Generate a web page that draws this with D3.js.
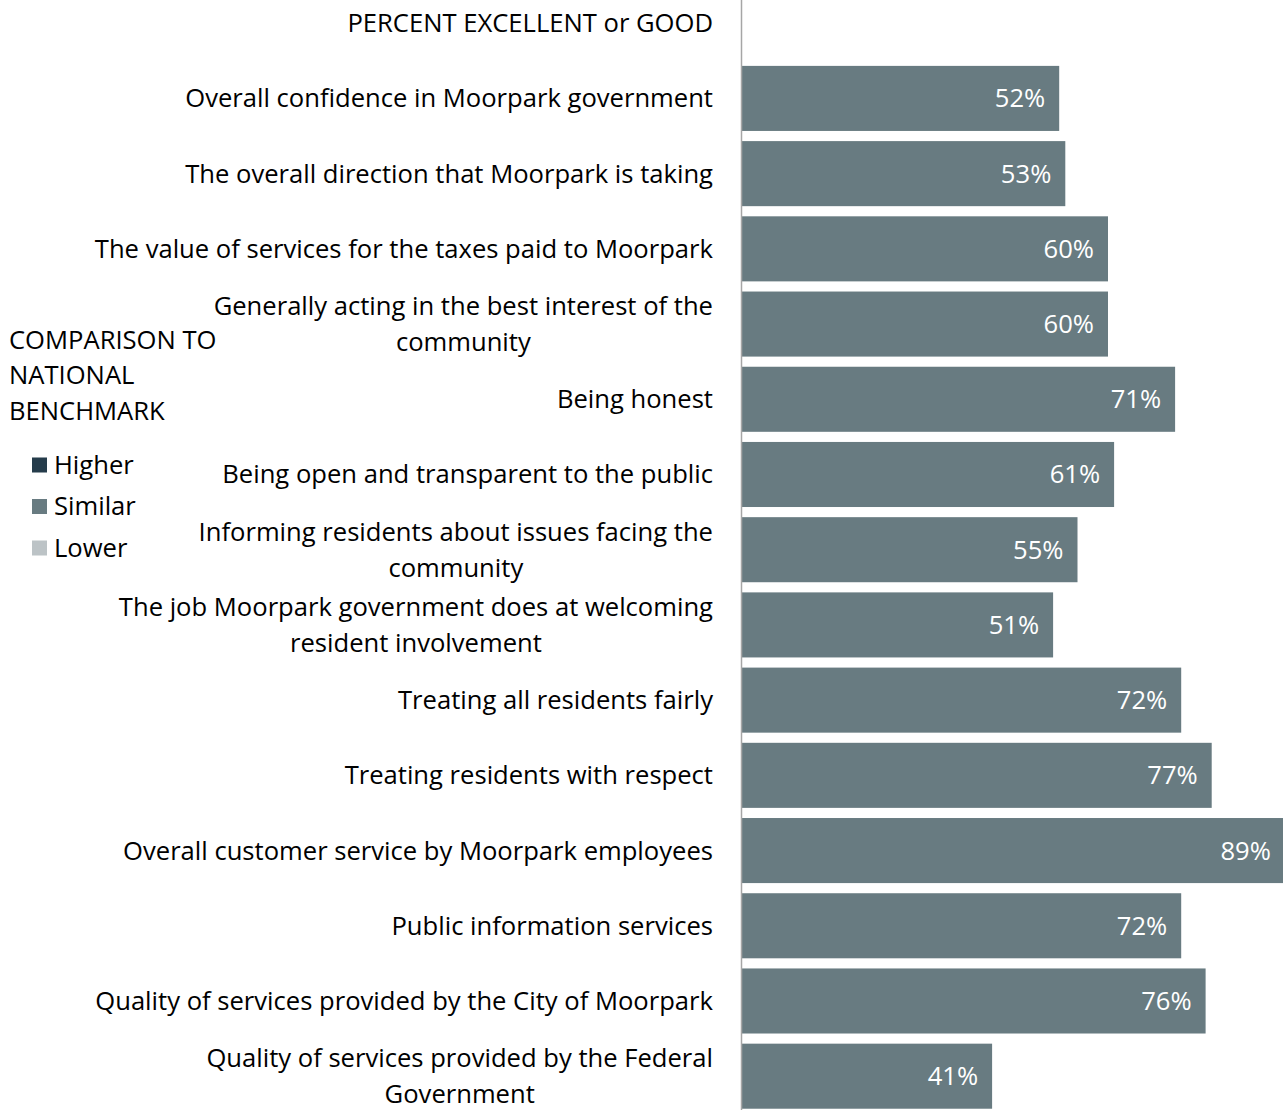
<!DOCTYPE html>
<html>
<head>
<meta charset="utf-8">
<script src="https://cdn.jsdelivr.net/npm/d3@7"></script>
<style>
  html, body { margin: 0; padding: 0; background: #fff; }
  svg text { font-family: "Open Sans", "Noto Sans", sans-serif; }
</style>
</head>
<body>
<svg id="chart" width="1283" height="1110"></svg>
<script>
const headerLabel = "PERCENT EXCELLENT or GOOD";
const categories = [
  ["Overall confidence in Moorpark government"],
  ["The overall direction that Moorpark is taking"],
  ["The value of services for the taxes paid to Moorpark"],
  ["Generally acting in the best interest of the", "community"],
  ["Being honest"],
  ["Being open and transparent to the public"],
  ["Informing residents about issues facing the", "community"],
  ["The job Moorpark government does at welcoming", "resident involvement"],
  ["Treating all residents fairly"],
  ["Treating residents with respect"],
  ["Overall customer service by Moorpark employees"],
  ["Public information services"],
  ["Quality of services provided by the City of Moorpark"],
  ["Quality of services provided by the Federal", "Government"]
];
const values = [52, 53, 60, 60, 71, 61, 55, 51, 72, 77, 89, 72, 76, 41];
const comparison = ["Similar","Similar","Similar","Similar","Similar","Similar","Similar",
                    "Similar","Similar","Similar","Similar","Similar","Similar","Similar"];
const legendTitle = ["COMPARISON TO", "NATIONAL", "BENCHMARK"];
const legendItems = ["Higher", "Similar", "Lower"];
const legendColors = ["#253c4b", "#687b81", "#bcc3c6"];

const FS = 25.6;
const svg = d3.select("#chart");
const color = d3.scaleOrdinal().domain(legendItems).range(legendColors);

const rowKeys = ["header"].concat(categories.map((c, i) => "c" + i));
const y = d3.scaleBand().domain(rowKeys).range([-14.4, 1113.8]).paddingInner(0.135).paddingOuter(0.0675);
const x = d3.scaleLinear().domain([0, 100]).range([742, 1352]);

// bars
svg.append("g").selectAll("rect").data(values).join("rect")
  .attr("x", x(0))
  .attr("y", (d, i) => y("c" + i))
  .attr("width", d => x(d) - x(0))
  .attr("height", y.bandwidth())
  .attr("fill", (d, i) => color(comparison[i]));

// value labels
svg.append("g").selectAll("text").data(values).join("text")
  .attr("x", d => x(d) - 14)
  .attr("y", (d, i) => y("c" + i) + y.bandwidth() / 2)
  .attr("dy", "0.35em")
  .attr("text-anchor", "end")
  .attr("fill", "#fff")
  .attr("font-size", FS)
  .text(d => d + "%");

// axis line
svg.append("line")
  .attr("x1", x(0) - 0.5).attr("x2", x(0) - 0.5)
  .attr("y1", 0).attr("y2", 1110)
  .attr("stroke", "#a6a6a6").attr("stroke-width", 1.5);

// category labels
const labelRight = 713;
const lineH = 36;
svg.append("text")
  .attr("x", labelRight).attr("y", y("header") + y.bandwidth() / 2)
  .attr("dy", "0.35em").attr("text-anchor", "end")
  .attr("font-size", FS).attr("fill", "#000").text(headerLabel);

categories.forEach((lines, i) => {
  const cy = y("c" + i) + y.bandwidth() / 2;
  const g = svg.append("g");
  const texts = lines.map((ln, j) => g.append("text")
    .attr("y", cy + (j - (lines.length - 1) / 2) * lineH)
    .attr("dy", "0.35em")
    .attr("font-size", FS).attr("fill", "#000")
    .attr("text-anchor", "middle")
    .text(ln));
  const widths = texts.map(t => t.node().getComputedTextLength());
  const maxW = d3.max(widths);
  const cx = labelRight - maxW / 2;
  texts.forEach(t => t.attr("x", cx));
});

// legend
const lg = svg.append("g");
legendTitle.forEach((t, i) => {
  lg.append("text").attr("x", 9).attr("y", 340 + i * 35.5)
    .attr("dy", "0.35em").attr("font-size", FS).attr("fill", "#000").text(t);
});
legendItems.forEach((t, i) => {
  const cy = 465 + i * 41.5;
  lg.append("rect").attr("x", 32).attr("y", cy - 7.5).attr("width", 15).attr("height", 15)
    .attr("fill", legendColors[i]);
  lg.append("text").attr("x", 54).attr("y", cy).attr("dy", "0.35em")
    .attr("font-size", FS).attr("fill", "#000").text(t);
});
</script>
</body>
</html>
